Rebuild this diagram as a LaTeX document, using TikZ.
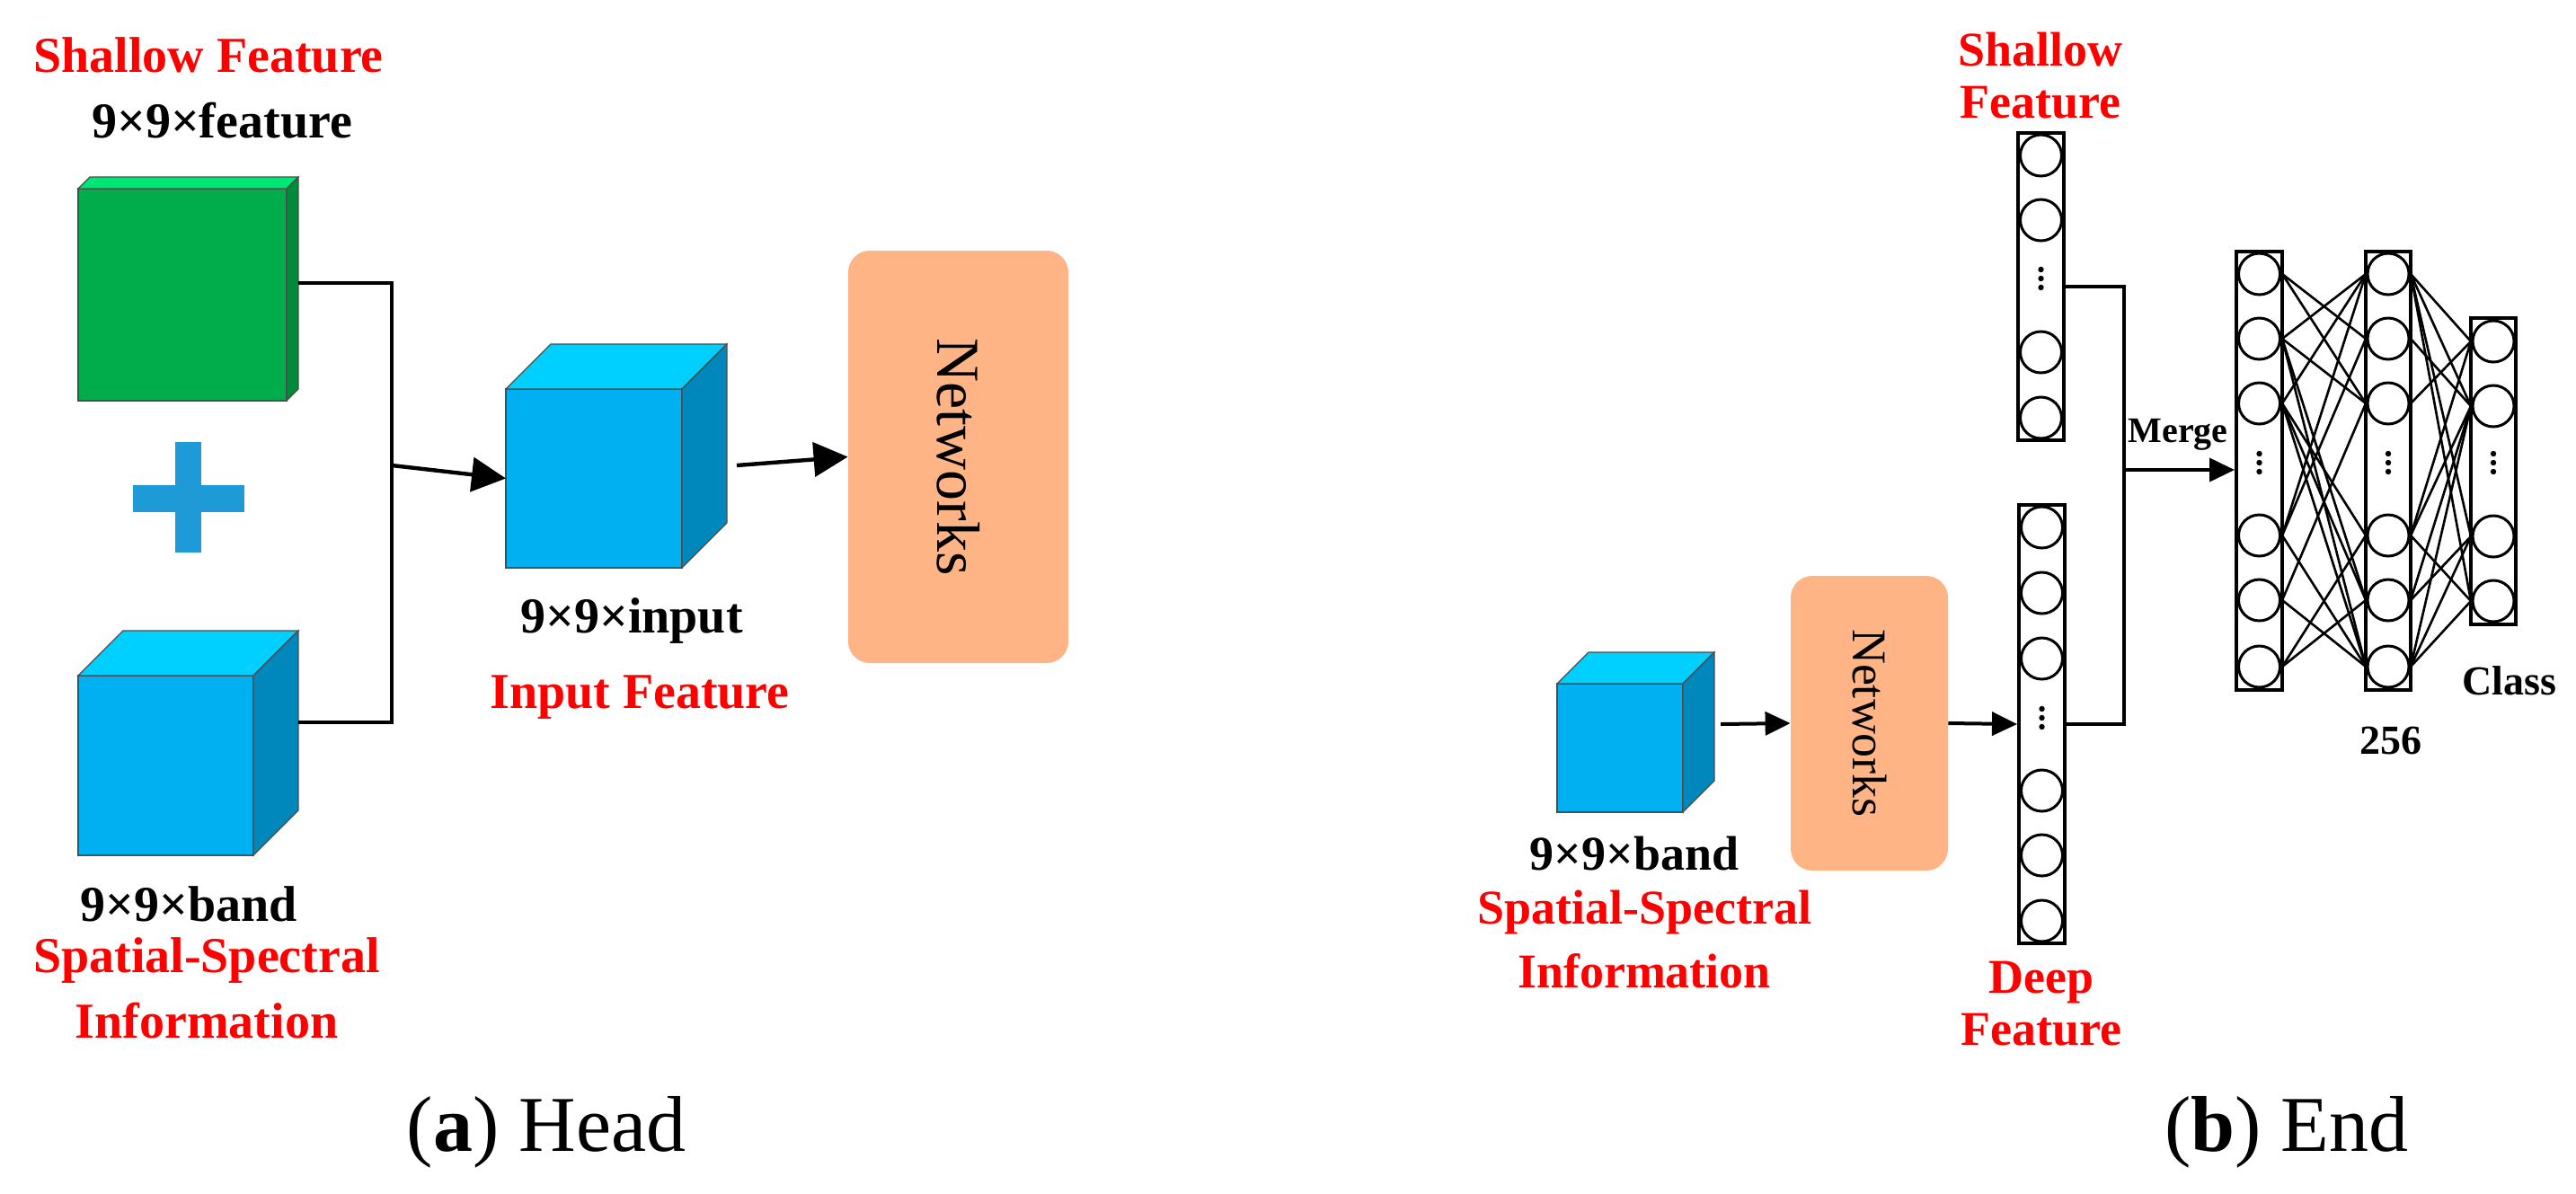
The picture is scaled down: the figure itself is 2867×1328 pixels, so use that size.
\documentclass[tikz,border=0pt]{standalone}
\usepackage{fontspec}
\setmainfont{Liberation Serif}
\usetikzlibrary{arrows.meta}
\definecolor{bfront}{HTML}{00B0F0}
\definecolor{btop}{HTML}{00D0FF}
\definecolor{bside}{HTML}{0088BD}
\definecolor{gfront}{HTML}{00AD4A}
\definecolor{gtop}{HTML}{00E676}
\definecolor{gside}{HTML}{008A3A}
\definecolor{netc}{HTML}{FFB485}
\definecolor{plusc}{HTML}{1E9BD7}
\definecolor{redc}{HTML}{FF0000}
\newcommand\mycube[9]{%
  \fill[#7,draw=black!70,line width=0.6pt] (#2,#3) rectangle ({#2+#4},{#3+#5});
  \fill[#8,draw=black!70,line width=0.6pt] (#2,#3) -- ({#2+#6},{#3-#6}) -- ({#2+#4+#6},{#3-#6}) -- ({#2+#4},#3) -- cycle;
  \fill[#9,draw=black!70,line width=0.6pt] ({#2+#4},#3) -- ({#2+#4+#6},{#3-#6}) -- ({#2+#4+#6},{#3+#5-#6}) -- ({#2+#4},{#3+#5}) -- cycle;
  \coordinate (#1-w) at (#2,{#3+#5/2});
}
\newcommand\mydots[2]{%
  \fill (#1,{#2-10}) circle (3.2) (#1,#2) circle (3.2) (#1,{#2+10}) circle (3.2);
}
\tikzset{
  lab/.style={font=\bfseries\fontsize{28}{32}\selectfont,inner sep=0},
  rlab/.style={font=\bfseries\fontsize{27}{31}\selectfont,inner sep=0,align=center},
  red/.style={text=redc},
  conn/.style={line width=2.2pt},
  bigarr/.style={line width=2.2pt,-{Triangle[length=19pt,width=19pt]}},
  smarr/.style={line width=2pt,-{Triangle[length=14pt,width=13pt]}},
  col/.style={draw,line width=2pt,fill=white},
  neur/.style={draw,line width=1.5pt},
  edge/.style={line width=1.3pt},
  netbox/.style={fill=netc,rounded corners=12pt},
}
\begin{document}
\begin{tikzpicture}[x=0.5pt,y=-0.5pt]
\useasboundingbox (0,0) rectangle (2867,1328);
% ---------------- (a) Head ----------------
\node[lab,red] (sf) at (232,61) {Shallow Feature};
\node[lab] (sfd) at (247,134) {9×9×feature};
\mycube{gbox}{87}{210}{232}{236}{13}{gfront}{gtop}{gside}
\coordinate (ge) at (332,315);
\fill[plusc] (195,492) rectangle (224,615);
\fill[plusc] (148,540) rectangle (272,570);
\node[inner sep=0] (plus) at (210,554) {};
\mycube{lcube}{87}{752}{195}{200}{50}{bfront}{btop}{bside}
\coordinate (le) at (332,804);
\node[lab] (lbd) at (210,1006) {9×9×band};
\node[lab,red] (lss) at (230,1069) {Spatial-Spectral};
\node[lab,red] (linf) at (230,1136) {Information};
\coordinate (j1) at (436,315);
\coordinate (j2) at (436,804);
\coordinate (jm) at (436,518);
\draw[conn] (ge) -- (j1) -- (j2) -- (le);
\mycube{icube}{563}{433}{196}{199}{50}{bfront}{btop}{bside}
\draw[bigarr] (jm) -- (icube-w);
\node[lab] (ind) at (703,691) {9×9×input};
\node[lab,red] (inf) at (712,776) {Input Feature};
\node[netbox,minimum width=122.5pt,minimum height=229.5pt,inner sep=0] (net1) at (1066.5,508.5) {};
\node[rotate=-90,font=\fontsize{34}{38}\selectfont] at (net1) {Networks};
\coordinate (ie) at (820,518);
\draw[bigarr] (ie) -- (net1.west);
\node[font=\fontsize{44}{50}\selectfont] (capa) at (608,1260) {(\textbf{a}) Head};
% ---------------- (b) End ----------------
\mycube{scube}{1733}{761}{140}{143}{35}{bfront}{btop}{bside}
\coordinate (se) at (1915,806);
\node[rlab] (sbd) at (1819,950) {9×9×band};
\node[rlab,red] (sss) at (1830,1015) {Spatial-Spectral};
\node[rlab,red] (sinf) at (1830,1081) {Information};
\node[netbox,minimum width=87.5pt,minimum height=164pt,inner sep=0] (net2) at (2080.5,805) {};
\node[rotate=-90,font=\fontsize{27}{30}\selectfont] at (net2) {Networks};
\draw[smarr] (se) -- (net2.west);
% shallow column
\node[col,minimum width=25.5pt,minimum height=171pt,inner sep=0] (shc) at (2271.5,319) {};
\foreach \yy in {173,245,392,465} \draw[neur] (2271.5,\yy) circle (23);
\mydots{2271.5}{310}
\node[rlab,red] (shl) at (2271,84) {Shallow\\[-2pt]Feature};
% deep column
\node[col,minimum width=25.5pt,minimum height=244pt,inner sep=0] (dpc) at (2272.5,806) {};
\foreach \yy in {587,660,733,880,952,1025} \draw[neur] (2272.5,\yy) circle (23);
\mydots{2272.5}{799}
\node[rlab,red] (dpl) at (2272,1117) {Deep\\[-2pt]Feature};
\draw[smarr] (net2.east) -- (dpc.west);
% merge
\coordinate (m1) at (2364,319);
\coordinate (m2) at (2364,806);
\coordinate (mm) at (2364,523);
\draw[conn] (shc.east |- m1) -- (m1) -- (m2) -- (dpc.east |- m2);
% layer columns
\node[col,minimum width=25.5pt,minimum height=244pt,inner sep=0] (L1) at (2514.5,524) {};
\node[col,minimum width=25pt,minimum height=244pt,inner sep=0] (L2) at (2658,524) {};
\node[col,minimum width=25pt,minimum height=170.5pt,inner sep=0] (L3) at (2775,524.5) {};
\draw[smarr] (mm) -- (L1.west |- mm);
\node[font=\bfseries\fontsize{20}{24}\selectfont,inner sep=0] (mg) at (2424,484) {Merge};
\foreach \i/\yy in {1/305,2/377,3/449,4/596,5/668,6/742}{
  \draw[neur] (2514.5,\yy) circle (23);
  \draw[neur] (2658,\yy) circle (23);
  \coordinate (a\i) at (2540,\yy);
  \coordinate (b\i) at (2633,\yy);
  \coordinate (bb\i) at (2683,\yy);
}
\mydots{2514.5}{515}
\mydots{2658}{515}
\foreach \i/\yy in {1/380,2/452,3/597,4/669}{
  \draw[neur] (2775,\yy) circle (23);
  \coordinate (c\i) at (2750,\yy);
}
\mydots{2775}{515}
\foreach \p/\q in {a1/b2,a1/b3,a2/b1,a2/b3,a2/b5,a2/b6,a3/b1,a3/b4,a3/b5,a3/b6,a4/b1,a4/b2,a4/b6,a5/b3,a5/b6,a6/b4,a6/b5}
  \draw[edge] (\p) -- (\q);
\foreach \p/\q in {bb1/c1,bb1/c2,bb1/c3,bb1/c4,bb2/c2,bb3/c1,bb4/c1,bb4/c2,bb4/c4,bb5/c2,bb5/c3,bb6/c2,bb6/c3,bb6/c4}
  \draw[edge] (\p) -- (\q);
\node[font=\bfseries\fontsize{23}{27}\selectfont,inner sep=0] (cls) at (2793,758) {Class};
\node[font=\bfseries\fontsize{23}{27}\selectfont,inner sep=0] (n256) at (2661,824) {256};
\node[font=\fontsize{44}{50}\selectfont] (capb) at (2545,1260) {(\textbf{b}) End};
\end{tikzpicture}
\end{document}
